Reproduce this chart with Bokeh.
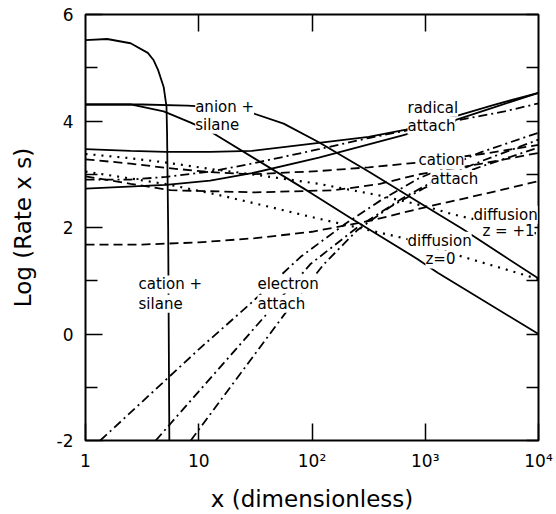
from bokeh.plotting import figure
from bokeh.models import Label, FixedTicker, LinearAxis, LogAxis
from bokeh.embed import file_html
from bokeh.resources import INLINE

# ---- data (x dimensionless, y = log(rate x s)) ----
cs_x = [1, 1.55, 2.5, 3.55, 4.0, 4.37, 4.9, 5.19, 5.25, 5.37, 5.5]
cs_y = [5.52, 5.54, 5.46, 5.28, 5.14, 4.96, 4.64, 4.27, 3.78, 1.97, -2.0]

anA_x = [1, 3.16, 7.94, 15.8, 28.8, 56.2, 115, 316, 1000, 2138, 10000]
anA_y = [4.31, 4.31, 4.29, 4.25, 4.16, 3.95, 3.6, 3.05, 2.4, 1.97, 1.04]

anB_x = [1, 2.5, 4.9, 8.5, 13.2, 97.7, 219, 851, 1288, 10000]
anB_y = [4.31, 4.31, 4.18, 3.97, 3.78, 2.65, 2.18, 1.41, 1.15, 0.0]

rad1_x = [1, 2.5, 5.13, 12.6, 29.5, 115, 316, 676, 1862, 3981, 10000]
rad1_y = [3.47, 3.44, 3.42, 3.42, 3.44, 3.59, 3.7, 3.84, 4.09, 4.3, 4.53]

rad2_x = [1, 5.13, 12.6, 29.5, 115, 631, 1862, 3981, 10000]
rad2_y = [2.73, 2.8, 2.88, 3.02, 3.31, 3.73, 4.02, 4.25, 4.53]

radd_x = [1, 2.5, 5.13, 12.6, 29.5, 115, 316, 676, 1995, 5012, 10000]
radd_y = [2.9, 2.9, 2.95, 3.05, 3.2, 3.47, 3.68, 3.82, 4.02, 4.18, 4.33]

cat1_x = [1, 2.5, 5.13, 12.6, 29.5, 115, 316, 871, 3162, 10000]
cat1_y = [3.28, 3.2, 3.12, 3.04, 3.0, 3.06, 3.13, 3.22, 3.38, 3.55]

cat2_x = [1, 2.5, 5.62, 31.6, 158, 398, 891, 3162, 10000]
cat2_y = [2.96, 2.82, 2.7, 2.66, 2.7, 2.82, 3.0, 3.2, 3.4]

cat3_x = [1, 3.16, 10, 31.6, 100, 316, 1000, 3162, 10000]
cat3_y = [1.68, 1.68, 1.72, 1.8, 1.92, 2.12, 2.38, 2.62, 2.87]

dif1_x = [1, 2.5, 5.13, 12.6, 29.5, 115, 398, 1000, 1738, 3981, 10000]
dif1_y = [3.38, 3.3, 3.22, 3.1, 3.0, 2.82, 2.6, 2.4, 2.25, 2.07, 1.88]

dif0_x = [1, 2.5, 5.62, 15.8, 39.8, 97.7, 251, 676, 1995, 5012, 10000]
dif0_y = [3.05, 2.92, 2.8, 2.6, 2.4, 2.2, 2.0, 1.79, 1.47, 1.22, 1.03]

el1_x = [1.35, 10.35, 28.6, 79.4, 200, 398, 871, 3162, 10000]
el1_y = [-2, -0.26, 0.57, 1.45, 2.08, 2.5, 2.92, 3.42, 3.78]

el2_x = [4.17, 20.4, 97.7, 251, 631, 1259, 3162, 10000]
el2_y = [-2, -0.33, 1.32, 2.0, 2.55, 2.9, 3.25, 3.65]

el3_x = [8.5, 56.2, 126, 251, 501, 1000, 3162, 10000]
el3_y = [-2, 0.35, 1.3, 1.95, 2.4, 2.75, 3.15, 3.5]

x_ticks = [1, 10, 100, 1000, 10000]
x_tick_labels = ["1", "10", "10\u00b2", "10\u00b3", "10\u2074"]
y_major = [-2, 0, 2, 4, 6]
y_minor = [-1, 1, 3, 5]

FONT = "DejaVu Sans"

p = figure(width=556, height=514, x_axis_type="log", x_range=(1, 1e4), y_range=(-2, 6),
           output_backend="svg", toolbar_location=None,
           min_border_left=85, min_border_right=18, min_border_top=14, min_border_bottom=71)
p.grid.visible = False
p.outline_line_color = "black"
p.outline_line_width = 2
p.background_fill_color = "white"
p.border_fill_color = "white"

lw = 1.8
DASH = "9 5"
DOT = "2 6"
DASHDOT = "9 4 2 4"

p.line(cs_x, cs_y, line_color="black", line_width=lw)
p.line(anA_x, anA_y, line_color="black", line_width=lw)
p.line(anB_x, anB_y, line_color="black", line_width=lw)
p.line(rad1_x, rad1_y, line_color="black", line_width=lw)
p.line(rad2_x, rad2_y, line_color="black", line_width=lw)
p.line(radd_x, radd_y, line_color="black", line_width=lw, line_dash=DASHDOT)
for xs, ys in [(cat1_x, cat1_y), (cat2_x, cat2_y), (cat3_x, cat3_y)]:
    p.line(xs, ys, line_color="black", line_width=lw, line_dash=DASH)
for xs, ys in [(dif1_x, dif1_y), (dif0_x, dif0_y)]:
    p.line(xs, ys, line_color="black", line_width=2.2, line_dash=DOT)
for xs, ys in [(el1_x, el1_y), (el2_x, el2_y), (el3_x, el3_y)]:
    p.line(xs, ys, line_color="black", line_width=lw, line_dash=DASHDOT)

# axes
xa = p.xaxis[0]
xa.ticker = FixedTicker(ticks=x_ticks, minor_ticks=[])
xa.major_label_overrides = {t: l for t, l in zip(x_ticks, x_tick_labels)}
ya = p.yaxis[0]
ya.ticker = FixedTicker(ticks=y_major, minor_ticks=y_minor)
ya.major_label_overrides = {t: str(t) for t in y_major}
for ax in (xa, ya):
    ax.axis_line_color = None
    ax.major_tick_out = 0
    ax.minor_tick_out = 0
    ax.major_tick_in = 17
    ax.minor_tick_in = 12
    ax.major_tick_line_width = 1.5
    ax.minor_tick_line_width = 1.5
    ax.major_label_text_font = FONT
    ax.major_label_text_font_size = "17px"
    ax.major_label_text_color = "black"
    ax.axis_label_text_font = FONT
    ax.axis_label_text_font_style = "normal"
    ax.axis_label_text_font_size = "23px"
    ax.axis_label_text_color = "black"
xa.axis_label = "x (dimensionless)"
xa.major_label_standoff = 10
xa.axis_label_standoff = 12
ya.axis_label = "Log (Rate x s)"
ya.major_label_standoff = 12
ya.axis_label_standoff = 18

top = LogAxis(ticker=FixedTicker(ticks=[10, 100, 1000], minor_ticks=[]))
right = LinearAxis(ticker=FixedTicker(ticks=[-2, -1, 0, 1, 2, 3, 4, 5, 6], minor_ticks=[]))
for ax, tin in ((top, 17), (right, 12)):
    ax.axis_line_color = None
    ax.major_tick_out = 0
    ax.major_tick_in = tin
    ax.minor_tick_in = 0
    ax.minor_tick_out = 0
    ax.major_tick_line_width = 1.5
    ax.major_label_text_font_size = "1px"
    ax.major_label_text_alpha = 0
    ax.major_label_standoff = 0
    ax.axis_label_standoff = 0
p.add_layout(top, "above")
p.add_layout(right, "right")

labels = [
    (9.3, 4.27, "anion +"), (9.3, 3.93, "silane"),
    (697, 4.25, "radical"), (697, 3.91, "attach"),
    (871, 3.26, "cation"), (1112, 2.91, "attach"),
    (2667, 2.24, "diffusion"), (3200, 1.94, "z = +1"),
    (697, 1.75, "diffusion"), (1004, 1.40, "z=0"),
    (2.94, 0.93, "cation +"), (2.94, 0.57, "silane"),
    (33, 0.93, "electron"), (33, 0.57, "attach"),
]
for lx, ly, txt in labels:
    p.add_layout(Label(x=lx, y=ly, text=txt, text_font=FONT, text_font_size="15px",
                       text_baseline="middle", text_align="left", text_color="black",
                       background_fill_color="white"))

open("out.html", "w").write(file_html(p, INLINE))
